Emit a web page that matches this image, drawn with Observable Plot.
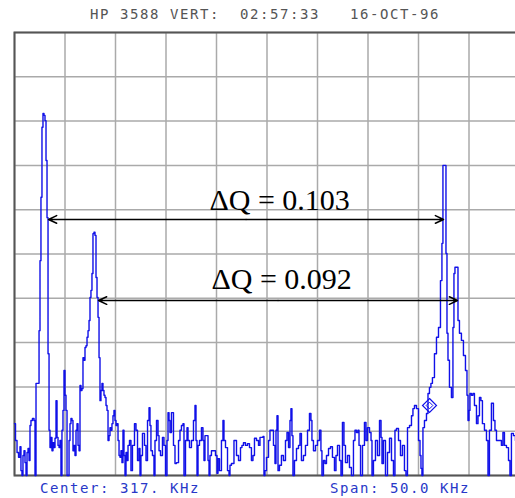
<!DOCTYPE html>
<html><head><meta charset="utf-8">
<script src="https://cdn.jsdelivr.net/npm/d3@7"></script>
<script src="https://cdn.jsdelivr.net/npm/@observablehq/plot@0.6"></script>
<style>
html,body{margin:0;padding:0;overflow:hidden;background:#fff;width:515px;height:498px}
#hdr{position:absolute;left:90px;top:7px;font:14px/14px "DejaVu Sans Mono",monospace;letter-spacing:1.57px;color:#555;white-space:pre}
.ftr{position:absolute;top:481px;font:14px/14px "DejaVu Sans Mono",monospace;letter-spacing:1.57px;color:#2838c8;white-space:pre}
#chart{position:absolute;left:0;top:30px;width:520px}
</style></head><body>
<div id="hdr">HP 3588 VERT:  02:57:33   16-OCT-96</div>
<div id="chart"></div>
<div class="ftr" style="left:40px">Center: 317. KHz</div>
<div class="ftr" style="left:330px">Span: 50.0 KHz</div>
<script>
// Spectrum trace: frequency (kHz) and level (dB, 10 dB/div)
const freq = [
292.00,292.20,292.30,292.50,292.59,292.69,292.79,292.89,292.99,293.09,293.19,293.29,293.39,293.49,293.58,293.68,293.88,293.98,294.08,294.18,
294.38,294.48,294.57,294.67,294.77,294.87,294.97,295.07,295.17,295.27,295.37,295.47,295.56,295.66,295.76,295.86,295.96,296.06,296.16,296.26,
296.36,296.46,296.55,296.65,296.75,296.85,296.95,297.05,297.15,297.25,297.35,297.45,297.54,297.64,297.74,297.84,297.94,298.04,298.14,298.24,
298.34,298.44,298.53,298.63,298.73,298.83,298.93,299.03,299.13,299.23,299.33,299.43,299.52,299.62,299.72,299.82,299.92,300.02,300.12,300.22,
300.32,300.42,300.51,300.61,300.71,300.81,300.91,301.01,301.11,301.21,301.31,301.41,301.50,301.60,301.70,301.80,301.90,302.00,302.10,302.20,
302.30,302.40,302.49,302.59,302.69,302.79,302.89,302.99,303.09,303.19,303.29,303.48,303.58,303.78,303.98,304.08,304.28,304.38,304.47,304.57,
304.77,304.97,305.07,305.27,305.37,305.46,305.56,305.76,305.86,305.96,306.16,306.26,306.36,306.55,306.75,306.85,307.05,307.15,307.25,307.35,
307.44,307.64,307.84,307.94,308.14,308.34,308.43,308.63,308.73,308.83,309.03,309.13,309.23,309.42,309.62,309.82,309.92,310.02,310.12,310.22,
310.41,310.61,310.71,310.81,310.91,311.11,311.21,311.31,311.40,311.60,311.80,312.00,312.10,312.20,312.39,312.59,312.69,312.79,312.99,313.19,
313.29,313.38,313.58,313.88,314.08,314.28,314.47,314.57,314.77,314.97,315.17,315.36,315.56,315.66,315.86,316.06,316.26,316.35,316.55,316.65,
316.75,316.85,317.05,317.25,317.34,317.54,317.74,317.84,317.94,318.04,318.14,318.33,318.53,318.73,318.93,319.03,319.23,319.32,319.42,319.52,
319.62,319.82,320.02,320.22,320.31,320.51,320.71,320.91,321.11,321.30,321.40,321.50,321.70,321.90,322.10,322.29,322.39,322.49,322.69,322.79,
322.99,323.19,323.38,323.58,323.78,323.88,324.08,324.28,324.37,324.57,324.67,324.87,325.07,325.26,325.46,325.66,325.76,325.96,326.06,326.16,
326.36,326.55,326.75,326.85,327.05,327.25,327.35,327.44,327.64,327.84,328.04,328.24,328.34,328.43,328.63,328.83,329.03,329.23,329.42,329.62,
329.72,329.92,330.12,330.31,330.51,330.71,330.81,331.01,331.21,331.40,331.50,331.70,331.90,332.10,332.20,332.29,332.39,332.49,332.69,332.89,
332.99,333.18,333.28,333.48,333.68,333.88,334.08,334.27,334.37,334.47,334.67,334.77,334.87,334.97,335.16,335.36,335.46,335.56,335.66,335.86,
335.96,336.15,336.35,336.55,336.75,336.85,336.95,337.05,337.14,337.34,337.44,337.64,337.84,337.94,338.13,338.23,338.43,338.63,338.83,338.93,
339.12,339.32,339.52,339.62,339.82,340.11,340.31,340.41,340.61,340.81,341.01,341.10,341.30,341.50,341.70,341.90
];
const level = [
-88.3,-92.1,-94.8,-95.9,-93.5,-98.9,-100,-95.5,-94.4,-97.1,-100,-94.8,-93.9,-96.6,-88.7,-87.6,-87.1,-87.6,-100,-79.2,
-79.2,-67.3,-51.5,-37.2,-21.4,-18.3,-18.7,-19.9,-28.9,-41.8,-72.5,-89.8,-93.7,-91.4,-94.4,-92.6,-93.7,-91.6,-83.1,-91.4,
-93.2,-93.7,-92.1,-100,-89.8,-85.3,-76.3,-81.9,-85.3,-100,-100,-92.1,-88.3,-87.1,-87.6,-94.4,-93.2,-95.5,-89.8,-88.3,
-93.2,-94.4,-79.7,-80.8,-80.4,-73.4,-74.0,-71.1,-70.7,-68.8,-67.3,-65.0,-59.8,-58.2,-54.4,-45.4,-45.1,-45.8,-55.3,-59.8,
-64.3,-73.4,-83.1,-80.8,-79.2,-80.8,-81.9,-82.4,-84.2,-85.3,-92.1,-91.0,-89.2,-89.8,-88.3,-86.5,-85.3,-87.6,-88.7,-88.3,
-92.1,-95.5,-95.9,-94.4,-97.1,-89.8,-95.5,-100,-94.8,-96.6,-93.2,-92.1,-98.9,-93.2,-88.3,-89.8,-96.6,-93.9,-100,-95.5,
-90.5,-93.2,-96.6,-87.6,-84.7,-88.7,-94.4,-95.5,-100,-92.1,-87.6,-91.0,-94.4,-95.5,-91.4,-93.2,-100,-92.1,-85.8,-87.6,
-90.3,-85.8,-93.2,-97.3,-97.1,-92.1,-89.8,-88.7,-88.3,-100,-92.1,-89.2,-92.1,-93.7,-92.1,-87.6,-84.2,-92.1,-100,-93.2,
-92.1,-89.2,-92.1,-96.6,-91.0,-91.0,-96.6,-100,-95.5,-94.4,-94.4,-95.5,-99.5,-96.2,-98.9,-92.1,-87.6,-92.1,-93.7,-98.9,
-100,-97.7,-97.3,-92.1,-95.5,-96.6,-93.7,-93.2,-92.6,-93.2,-92.8,-93.7,-96.6,-95.5,-91.6,-92.1,-93.2,-91.4,-91.4,-91.2,
-100,-98.9,-95.9,-92.1,-89.8,-89.8,-93.2,-97.3,-89.8,-86.5,-98.9,-97.7,-95.5,-96.6,-92.1,-90.3,-93.7,-87.6,-84.9,-91.0,
-100,-96.6,-93.9,-93.2,-90.5,-96.6,-95.5,-93.2,-89.8,-86.0,-87.6,-92.1,-94.4,-93.2,-92.1,-89.8,-94.4,-100,-96.6,-97.3,
-95.5,-93.9,-93.5,-95.9,-98.9,-95.5,-93.2,-96.6,-100,-88.0,-93.2,-97.1,-95.5,-98.2,-100,-92.1,-89.8,-90.3,-89.8,-93.2,
-100,-93.2,-88.0,-92.1,-89.2,-90.3,-92.1,-100,-96.6,-92.1,-95.5,-87.6,-91.4,-97.3,-92.1,-100,-94.8,-91.6,-96.6,-100,
-89.8,-89.4,-92.1,-95.5,-93.2,-98.9,-100,-89.2,-88.7,-86.5,-84.9,-84.2,-84.9,-92.1,-95.5,-98.4,-100,-89.2,-87.6,-86.0,
-81.5,-80.1,-79.2,-77.9,-72.5,-68.8,-66.6,-56.0,-47.6,-30.0,-30.0,-49.9,-67.9,-74.0,-80.1,-82.4,-66.6,-54.4,-53.0,-53.0,
-65.0,-67.9,-69.5,-72.9,-76.3,-81.9,-87.6,-85.3,-81.5,-81.9,-81.5,-84.2,-88.3,-86.5,-82.4,-83.1,-88.3,-89.8,-92.1,-100,
-89.8,-83.7,-87.6,-89.8,-92.1,-92.1,-93.2,-90.3,-93.2,-93.7,-96.6,-100,-90.5,-91.0,-92.1,-93.2
];
// Grid ticks: 5 kHz/div, 10 dB/div
const freqTicks = d3.range(292, 343, 5);
const levelTicks = d3.range(-100, 1, 10);
// Delta-Q annotations (arrows between peak pairs)
const arrowLevel = [-42.2, -60.5];
const arrowFrom = [295.37, 300.32];
const arrowTo = [334.48, 335.86];
const labelText = ["ΔQ = 0.103", "ΔQ = 0.092"];
const labelFreq = [311.3, 311.5];
const labelLevel = [-40.0, -57.8];
// Marker
const markerFreq = [333.09];
const markerLevel = [-84.2];

const trace = freq.map((f, i) => ({f, db: level[i]}));
const arrows = arrowLevel.map((y, i) => ({y, a: arrowFrom[i], b: arrowTo[i]}));
const labels = labelText.map((t, i) => ({t, x: labelFreq[i], y: labelLevel[i]}));
const markers = markerFreq.map((f, i) => ({f, db: markerLevel[i]}));

const blue = "#1010e8";
const chart = Plot.plot({
  width: 520, height: 447,
  marginLeft: 14, marginRight: 1, marginTop: 2, marginBottom: 2,
  x: {domain: [292, 342], axis: null},
  y: {domain: [-100, 0], axis: null},
  style: {background: "#fff", overflow: "visible", maxWidth: "none"},
  marks: [
    Plot.ruleX(freqTicks, {stroke: "#aaa", strokeWidth: 1.5}),
    Plot.ruleY(levelTicks, {stroke: "#aaa", strokeWidth: 1.5}),
    Plot.frame({stroke: "#555", strokeWidth: 2}),
    Plot.line(trace, {x: "f", y: "db", curve: "step", stroke: blue, strokeWidth: 1.4}),
    Plot.dot(markers, {x: "f", y: "db", symbol: "diamond2", r: 6.3, stroke: blue, fill: "none", strokeWidth: 1.2}),
    Plot.dot(markers, {x: "f", y: "db", symbol: "diamond2", r: 3, stroke: blue, fill: "none", strokeWidth: 1}),
    Plot.arrow(arrows, {x1: d => (d.a + d.b) / 2, y1: "y", x2: "a", y2: "y", stroke: "black", strokeWidth: 1.5, headLength: 9, headAngle: 50}),
    Plot.arrow(arrows, {x1: d => (d.a + d.b) / 2, y1: "y", x2: "b", y2: "y", stroke: "black", strokeWidth: 1.5, headLength: 9, headAngle: 50}),
    Plot.text(labels, {x: "x", y: "y", text: "t", textAnchor: "start", lineAnchor: "bottom", fontFamily: "Liberation Serif", fontSize: 30, fill: "black"})
  ]
});
document.getElementById("chart").appendChild(chart);
</script>
</body></html>
